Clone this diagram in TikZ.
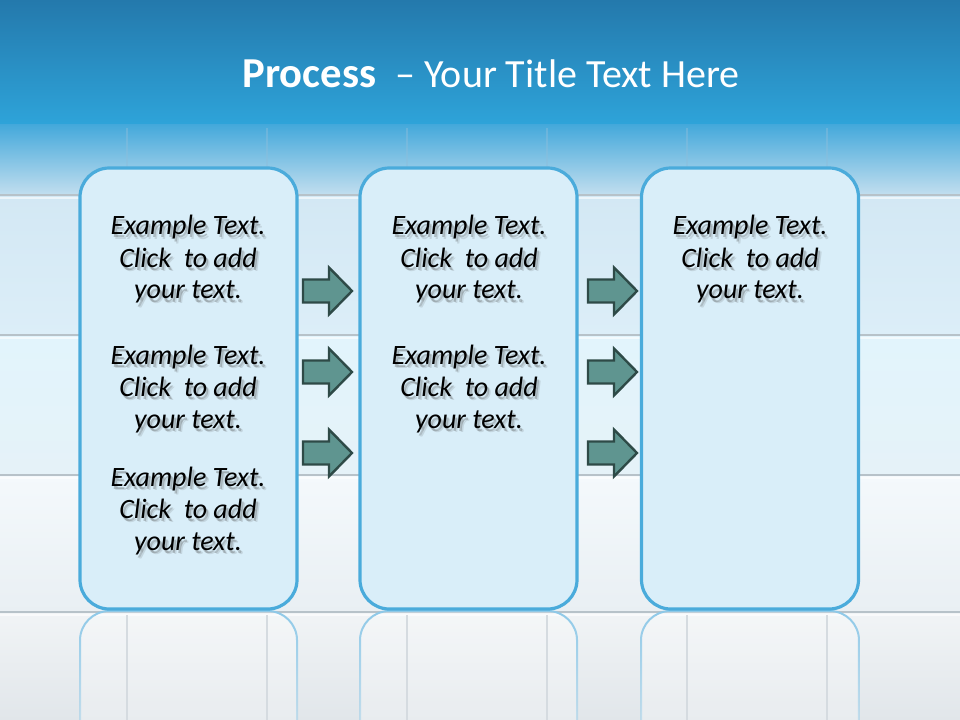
\documentclass[tikz,border=0pt]{standalone}
\usepackage{fontspec}
\setmainfont{Carlito}
\usetikzlibrary{fadings}
\definecolor{boxfill}{HTML}{D9EEF9}
\definecolor{boxline}{HTML}{4AABDB}
\definecolor{arrfill}{HTML}{5F9590}
\definecolor{arrline}{HTML}{2E4A47}
\definecolor{tileline}{HTML}{B7C2C9}
\definecolor{reflline}{HTML}{8FC9E8}
\definecolor{bgA}{HTML}{2479AC}
\definecolor{bgB}{HTML}{2EA4DA}
\definecolor{bgC}{HTML}{45A9DB}
\definecolor{bgD}{HTML}{C4DFEF}
\definecolor{bgE}{HTML}{D3E8F4}
\definecolor{bgF}{HTML}{DCEEF8}
\definecolor{bgG}{HTML}{E2F4FC}
\definecolor{bgH}{HTML}{E5F2F8}
\definecolor{bgI}{HTML}{F4F9FC}
\definecolor{bgJ}{HTML}{E9EFF3}
\definecolor{bgK}{HTML}{F1F4F6}
\definecolor{bgL}{HTML}{E1E6EA}
\definecolor{topvert}{HTML}{8CBEDC}
\definecolor{botvert}{HTML}{C8D0D6}
\tikzset{
  procbox/.style={draw=boxline, fill=boxfill, line width=2.4pt, rounded corners=22pt,
    minimum width={217*0.75pt}, minimum height={441*0.75pt}, inner sep=0pt},
  reflbox/.style={draw=reflline, line width=1.5pt, rounded corners=22pt},
  bodytext/.style={font=\itshape\fontsize{21}{24}\selectfont, align=center, anchor=base, text=black},
  bodyshadow/.style={bodytext, text=black!70, opacity=0.3},
  blockarrow/.style={fill=arrfill, draw=arrline, line width=1.8pt, line join=miter},
}
\newcommand{\exampletext}{Example Text.\\Click\ \ to add\\your text.}
\begin{document}
\begin{tikzpicture}[x=0.75pt,y=-0.75pt]
\useasboundingbox (0,0) rectangle (960,720);
% background
\shade[top color=bgA, bottom color=bgB] (0,0) rectangle (960,126);
\shade[top color=bgC, bottom color=bgD] (0,125) rectangle (960,196);
\shade[top color=bgE, bottom color=bgF] (0,195) rectangle (960,336);
\shade[top color=bgG, bottom color=bgH] (0,335) rectangle (960,476);
\shade[top color=bgI, bottom color=bgJ] (0,475) rectangle (960,613);
\shade[top color=bgK, bottom color=bgL] (0,612) rectangle (960,720);
% tile grid
\foreach \yy in {195,335,475,612} {
  \draw[tileline, line width=2.2pt] (0,\yy) -- (960,\yy);
  \draw[white, opacity=0.6, line width=1pt] (0,\yy+3) -- (960,\yy+3);
}
\foreach \xx in {127,267,407,547,687,827} {
  \draw[topvert, opacity=0.45, line width=1.5pt] (\xx,128) -- (\xx,193);
  \draw[botvert, line width=2pt] (\xx,615) -- (\xx,720);
}
% reflections
\foreach \xl/\xr in {80/297,360/577,641/859} {
  \fill[white, opacity=0.25, rounded corners=22pt] (\xl,611) rectangle (\xr,800);
  \begin{scope}
    \clip (\xl-10,609) rectangle (\xr+10,720);
    \draw[reflbox, path fading=south] (\xl,611) rectangle (\xr,800);
  \end{scope}
}
% title
\node[anchor=base, text=white] (title) at (491,88)
  {\fontsize{32}{38}\selectfont\textbf{Process}\ \ \fontsize{30}{36}\selectfont– Your Title Text Here};
% boxes
\node[procbox] (b1) at (188.5,388.5) {};
\node[procbox] (b2) at (468.5,388.5) {};
\node[procbox] (b3) at (750,388.5) {};
% arrows
\foreach \ax in {303, 588} {
  \foreach \ay in {291, 372, 453} {
    \draw[blockarrow] (\ax,\ay-11.5) -- (\ax+26,\ay-11.5) -- (\ax+26,\ay-23.5) -- (\ax+49,\ay)
      -- (\ax+26,\ay+23.5) -- (\ax+26,\ay+11.5) -- (\ax,\ay+11.5) -- cycle;
  }
}
% texts with shadows (base anchor = baseline of last line)
\foreach \cx/\cy/\nm in {188/299/t1, 188/428/t2, 188/550/t3, 469/299/t4, 469/428/t5, 750/299/t6} {
  \node[bodyshadow] (\nm s) at (\cx+2,\cy+3) {\exampletext};
  \node[bodyshadow, opacity=0.15] (\nm r) at (\cx+3.5,\cy+4.5) {\exampletext};
  \node[bodytext] (\nm) at (\cx,\cy) {\exampletext};
}
\end{tikzpicture}
\end{document}
